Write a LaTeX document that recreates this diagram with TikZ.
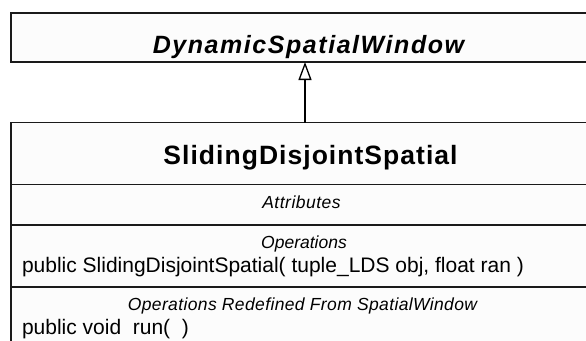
\documentclass[tikz,border=0pt]{standalone}
\usepackage{fontspec}
\setmainfont{Liberation Sans}
\usetikzlibrary{arrows.meta}
\definecolor{boxfill}{HTML}{FCFCFC}
\definecolor{edge}{HTML}{1A1A1A}
\newcommand\fDyn{\fontsize{25}{29}\selectfont\bfseries\itshape\addfontfeature{LetterSpace=6.2}}
\newcommand\fCls{\fontsize{26.5}{30}\selectfont\bfseries\addfontfeature{LetterSpace=3.9}}
\newcommand\fLblA{\fontsize{17.5}{20}\selectfont\itshape\addfontfeature{LetterSpace=2.9}}
\newcommand\fLblB{\fontsize{17.5}{20}\selectfont\itshape}
\newcommand\fLblC{\fontsize{17.5}{20}\selectfont\itshape\addfontfeature{LetterSpace=2.1}}
\newcommand\fTxt{\fontsize{21}{24}\selectfont}
\tikzset{
  classbox/.style={draw=edge, line width=1.4pt, fill=boxfill, rectangle, inner sep=0pt, outer sep=0pt},
  divider/.style={draw=edge, line width=1.3pt},
  txt/.style={anchor=base, inner sep=0pt, outer sep=0pt, text=black},
  ltxt/.style={anchor=base west, inner sep=0pt, outer sep=0pt, text=black, font=\fTxt},
  inherit/.style={draw=black, line width=1.3pt, -{Triangle[open, length=18pt, width=13pt, fill=white]}}
}
\begin{document}
\begin{tikzpicture}[x=1pt,y=-1pt]
\useasboundingbox (0,0) rectangle (586,340);
\clip (0,0) rectangle (586,340);
\fill[white] (0,0) rectangle (586,340);
% class boxes
\node[classbox, minimum width=594pt, minimum height=49pt] (dsw) at (308,37.5) {};
\node[classbox, minimum width=594pt, minimum height=225pt] (sds) at (308,235) {};
% compartments of SlidingDisjointSpatial
\coordinate (d1) at (0,184.5);
\coordinate (d2) at (0,225);
\coordinate (d3) at (0,287);
\draw[divider] (sds.west |- d1) -- (sds.east |- d1);
\draw[divider] (sds.west |- d2) -- (sds.east |- d2);
\draw[divider] (sds.west |- d3) -- (sds.east |- d3);
% texts
\node[txt, font=\fDyn] (tdsw) at (308.5,53) {DynamicSpatialWindow};
\node[txt, font=\fCls] (tsds) at (310.5,164) {SlidingDisjointSpatial};
\node[txt, font=\fLblA] (tattr) at (301.5,208) {Attributes};
\node[txt, font=\fLblB] (tops) at (304,248.5) {Operations};
\node[ltxt] (top1) at (22,272.5) {public SlidingDisjointSpatial( tuple\_LDS obj, float ran )};
\node[txt, font=\fLblC] (tred) at (302.5,310) {Operations Redefined From SpatialWindow};
\node[ltxt] (top2) at (22,334.5) {public void\ \ run(\ \ )};
% generalization
\coordinate (ax) at (305,0);
\draw[inherit] (sds.north -| ax) -- (dsw.south -| ax);
\end{tikzpicture}
\end{document}
